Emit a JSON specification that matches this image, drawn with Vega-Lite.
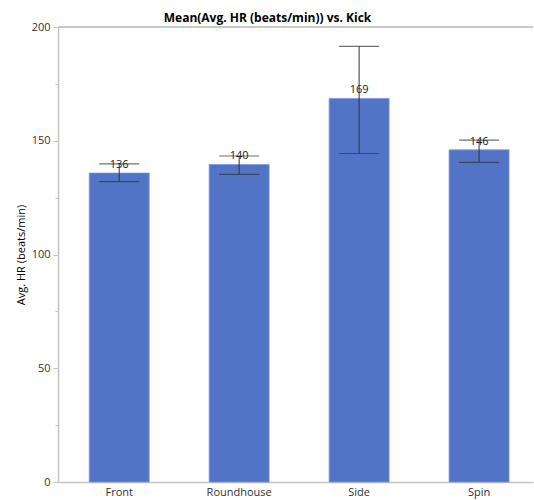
{
  "$schema": "https://vega.github.io/schema/vega-lite/v6.json",
  "width": 475,
  "height": 455,
  "autosize": "none",
  "padding": {"left": 58, "top": 27, "right": 1, "bottom": 18},
  "title": {"text": "Mean(Avg. HR (beats/min)) vs. Kick", "font": "Open Sans", "fontSize": 12, "fontWeight": "bold", "color": "#000000", "anchor": "middle", "dx": -28, "offset": -4},
  "config": {"view": {"stroke": null}, "font": "Open Sans"},
  "data": {"values": [
    {"Kick": "Front", "mean": 135.8, "lower": 132.0, "upper": 139.8},
    {"Kick": "Roundhouse", "mean": 139.6, "lower": 135.2, "upper": 143.3},
    {"Kick": "Side", "mean": 168.6, "lower": 144.4, "upper": 191.5},
    {"Kick": "Spin", "mean": 146.0, "lower": 140.5, "upper": 150.3}
  ]},
  "layer": [
    {"mark": {"type": "bar", "color": "#5174c6", "stroke": "#7d98d6", "strokeWidth": 0.8},
     "encoding": {
       "x": {"field": "Kick", "type": "nominal", "sort": null,
         "scale": {"paddingInner": 0.5, "paddingOuter": 0.23, "align": 0.566},
         "axis": {"title": null, "labelAngle": 0, "ticks": false, "labelPadding": 4, "labelFontSize": 11, "labelColor": "#333333", "domainColor": "#c4c4c4", "domainWidth": 1.5}},
       "y": {"field": "mean", "type": "quantitative", "title": "Avg. HR (beats/min)",
       "scale": {"domain": [0, 200], "nice": false},
       "axis": {"values": [0, 25, 50, 75, 100, 125, 150, 175, 200], "labelExpr": "datum.value % 50 === 0 ? datum.label : ''",
         "grid": false, "tickSize": {"condition": {"test": "datum.value % 50 === 0", "value": 5}, "value": 3},
         "tickColor": "#c4c4c4", "domainColor": "#c4c4c4", "domainWidth": 1.5, "labelFontSize": 11, "labelColor": "#333333", "labelPadding": 3,
         "titleFontWeight": "normal", "titleFontSize": 11, "titleColor": "#000000", "titlePadding": 5}}}},
    {"mark": {"type": "rule", "color": "#333333", "strokeWidth": 1},
     "encoding": {"x": {"field": "Kick", "type": "nominal", "sort": null}, "y": {"field": "lower", "type": "quantitative", "title": "Avg. HR (beats/min)"}, "y2": {"field": "upper"}}},
    {"mark": {"type": "tick", "color": "#333333", "size": 40, "thickness": 1.2},
     "encoding": {"x": {"field": "Kick", "type": "nominal", "sort": null}, "y": {"field": "lower", "type": "quantitative", "title": "Avg. HR (beats/min)"}}},
    {"mark": {"type": "tick", "color": "#333333", "size": 40, "thickness": 1.2},
     "encoding": {"x": {"field": "Kick", "type": "nominal", "sort": null}, "y": {"field": "upper", "type": "quantitative", "title": "Avg. HR (beats/min)"}}},
    {"mark": {"type": "text", "baseline": "alphabetic", "dy": -5, "fontSize": 11, "color": "#222222"},
     "encoding": {"x": {"field": "Kick", "type": "nominal", "sort": null}, "y": {"field": "mean", "type": "quantitative", "title": "Avg. HR (beats/min)"}, "text": {"field": "mean", "type": "quantitative", "format": ".0f"}}},
    {"mark": {"type": "rule", "color": "#c8c8c8", "strokeWidth": 1.5},
     "encoding": {"y": {"datum": 200}}}
  ]
}
